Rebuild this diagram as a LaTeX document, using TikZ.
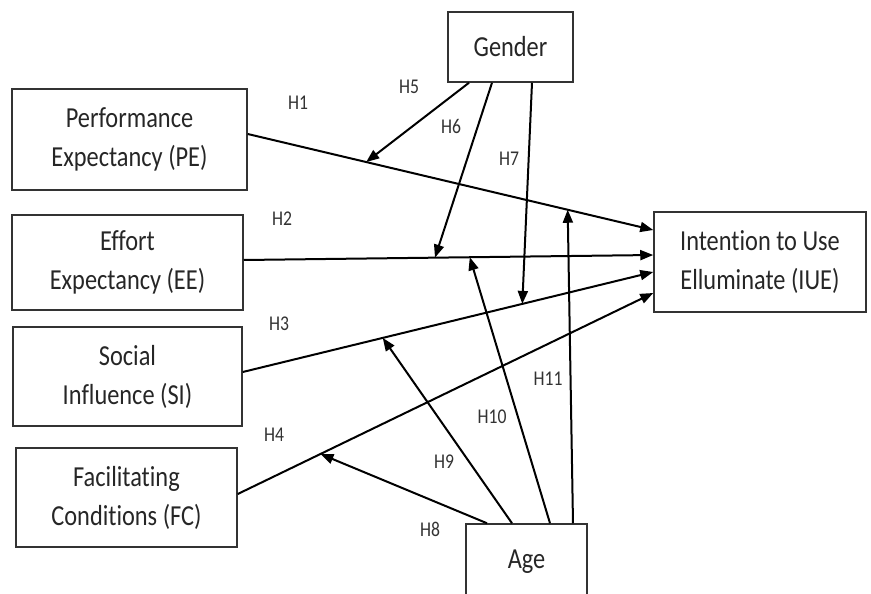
\documentclass[tikz,border=0pt]{standalone}
\usepackage{fontspec}
\setmainfont{Carlito}[FakeStretch=0.84, Ligatures=NoCommon]
\usetikzlibrary{arrows.meta}
\tikzset{
  caixa/.style={draw=black!80, line width=1.5pt, align=center, inner sep=0pt, font=\fontsize{29}{39}\selectfont, text=black!85},
  seta/.style={-{Triangle[length=13pt,width=10pt]}, line width=2pt},
  rotulo/.style={font=\fontsize{21}{24}\selectfont, text=black!80, inner sep=0pt},
}
\begin{document}
\begin{tikzpicture}[x=1pt, y=-1pt]
    \useasboundingbox (0,0) rectangle (871,594); % Moldura
    % Caixas
    \node[caixa, minimum width=125pt, minimum height=70pt] (Gender) at (510.5,47) {Gender};
    \node[caixa, minimum width=235pt, minimum height=101pt] (PE) at (129.5,139.5) {Performance\\Expectancy (PE)};
    \node[caixa, minimum width=231pt, minimum height=95pt] (EE) at (127.5,262.5) {Effort\\Expectancy (EE)};
    \node[caixa, minimum width=229pt, minimum height=99pt] (SI) at (127.5,376.5) {Social\\Influence (SI)};
    \node[caixa, minimum width=221pt, minimum height=99pt] (FC) at (126.5,497.5) {Facilitating\\Conditions (FC)};
    \node[caixa, minimum width=212pt, minimum height=100pt] (IUE) at (760,262) {Intention to Use\\Elluminate (IUE)};
    \node[caixa, minimum width=121pt, minimum height=76pt] (Age) at (526.5,562) {Age};
    % Setas principais
    \draw[seta] ([yshift=5.5pt]PE.east) -- coordinate[pos=0.292] (m1a) coordinate[pos=0.789] (m1b) ([yshift=32pt]IUE.west); % H1
    \draw[seta] ([yshift=2.5pt]EE.east) -- coordinate[pos=0.467] (m2a) coordinate[pos=0.552] (m2b) ([yshift=7pt]IUE.west); % H2
    \draw[seta] ([yshift=4.5pt]SI.east) -- coordinate[pos=0.341] (m3a) coordinate[pos=0.681] (m3b) ([yshift=-10pt]IUE.west); % H3
    \draw[seta] ([yshift=3.5pt]FC.east) -- coordinate[pos=0.199] (m4a) ([yshift=-31pt]IUE.west); % H4
    % Moderadores
    \draw[seta] ([xshift=-41.5pt]Gender.south) -- (m1a); % H5
    \draw[seta] ([xshift=-18.5pt]Gender.south) -- (m2a); % H6
    \draw[seta] ([xshift=21.5pt]Gender.south) -- (m3b); % H7
    \draw[seta] ([xshift=-39.5pt]Age.north) -- (m4a); % H8
    \draw[seta] ([xshift=-14.5pt]Age.north) -- (m3a); % H9
    \draw[seta] ([xshift=23.5pt]Age.north) -- (m2b); % H10
    \draw[seta] ([xshift=46.5pt]Age.north) -- (m1b); % H11
    % Rotulos
    \node[rotulo] (lH1) at (298,103) {H1};
    \node[rotulo] (lH2) at (282,219) {H2};
    \node[rotulo] (lH3) at (279,324) {H3};
    \node[rotulo] (lH4) at (274,435) {H4};
    \node[rotulo] (lH5) at (409,87) {H5};
    \node[rotulo] (lH6) at (451,126) {H6};
    \node[rotulo] (lH7) at (509,159) {H7};
    \node[rotulo] (lH8) at (430,529) {H8};
    \node[rotulo] (lH9) at (444,462) {H9};
    \node[rotulo] (lH10) at (492,417) {H10};
    \node[rotulo] (lH11) at (548,379) {H11};
\end{tikzpicture}
\end{document}
